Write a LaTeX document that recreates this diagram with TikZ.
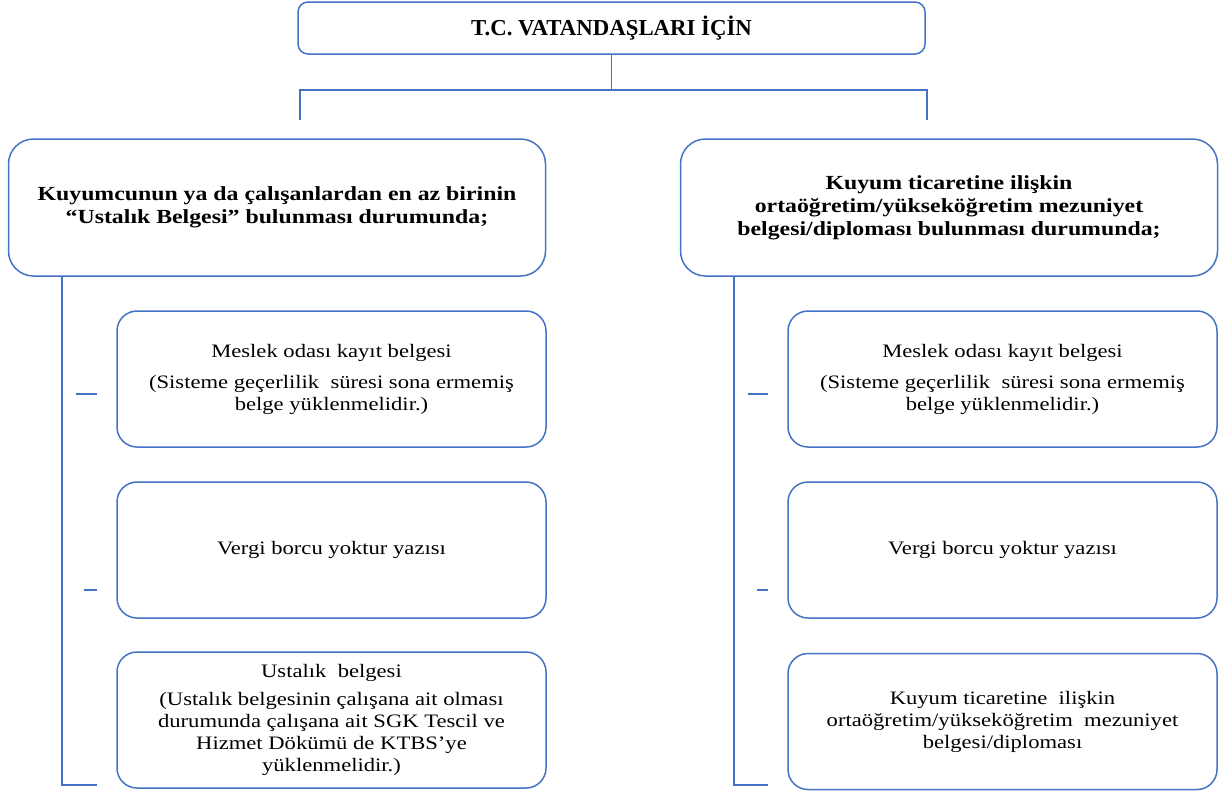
\documentclass[tikz,border=0pt]{standalone}
\usepackage{fontspec}
\setmainfont{Liberation Serif}
\newfontfamily\widefont[FakeStretch=1.19]{Liberation Serif}
\usepackage{xcolor}
\definecolor{linkblue}{HTML}{4472C4}

\begin{document}
\begin{tikzpicture}[x=1pt,y=-1pt,
    box/.style={draw=linkblue,line width=1.5pt,align=center,inner sep=0pt},
    headbox/.style={box,rounded corners=25pt,minimum width=537pt,minimum height=137pt,
        font=\widefont\bfseries\fontsize{20}{23}\selectfont},
    itembox/.style={box,rounded corners=20pt,minimum width=429pt,minimum height=136pt,
        font=\widefont\fontsize{19}{22}\selectfont},
    conn/.style={draw=linkblue,line width=1.5pt}]
    \useasboundingbox (0,0) rectangle (1223,793);

    % title
    \node[box,rounded corners=10pt,minimum width=627pt,minimum height=52pt,
        font=\bfseries\fontsize{22.8}{26}\selectfont] (title) at (611.5,28) {T.C. VATANDAŞLARI İÇİN};
    \coordinate (busL) at (300,90);
    \coordinate (busR) at (927,90);
    \coordinate (dropL) at (300,120);
    \coordinate (dropR) at (927,120);
    \draw[conn] (title.south) -- (title.south |- busL);
    \draw[conn] (dropL) -- (busL) -- (busR) -- (dropR);

    % ustalik belgesi
    \node[headbox] (lefthead) at (277,207.5)
        {Kuyumcunun ya da çalışanlardan en az birinin\\“Ustalık Belgesi” bulunması durumunda;};
    \node[itembox] (leftodasi) at (331.5,379)
        {Meslek odası kayıt belgesi\\[9pt](Sisteme geçerlilik\ \ süresi sona ermemiş\\belge yüklenmelidir.)};
    \node[itembox] (leftvergi) at (331.5,550) {Vergi borcu yoktur yazısı};
    \node[itembox] (leftusta) at (331.5,720)
        {Ustalık\ \ belgesi\\[6pt](Ustalık belgesinin çalışana ait olması\\durumunda çalışana ait SGK Tescil ve\\Hizmet Dökümü de KTBS’ye\\yüklenmelidir.)};
    \coordinate (spineL) at (62,276);
    \coordinate (spineLend) at (97,785);
    \coordinate (tickLa) at (76,394);
    \coordinate (tickLb) at (84,590);
    \draw[conn] (spineL) |- (spineLend);
    \draw[conn] (tickLa) -- (tickLa -| spineLend);
    \draw[conn] (tickLb) -- (tickLb -| spineLend);

    % mezuniyet belgesi
    \begin{scope}[xshift=672pt]
        \node[headbox] (righthead) at (277,207.5)
            {Kuyum ticaretine ilişkin\\ortaöğretim/yükseköğretim mezuniyet\\belgesi/diploması bulunması durumunda;};
        \node[itembox] (rightodasi) at (330.5,379)
            {Meslek odası kayıt belgesi\\[9pt](Sisteme geçerlilik\ \ süresi sona ermemiş\\belge yüklenmelidir.)};
        \node[itembox] (rightvergi) at (330.5,550) {Vergi borcu yoktur yazısı};
        \node[itembox] (rightdiploma) at (330.5,721.5)
            {Kuyum ticaretine\ \ ilişkin\\ortaöğretim/yükseköğretim\ \ mezuniyet\\belgesi/diploması};
        \coordinate (spineR) at (62,276);
        \coordinate (spineRend) at (96,785);
        \coordinate (tickRa) at (76,394);
        \coordinate (tickRb) at (85,590);
        \draw[conn] (spineR) |- (spineRend);
        \draw[conn] (tickRa) -- (tickRa -| spineRend);
        \draw[conn] (tickRb) -- (tickRb -| spineRend);
    \end{scope}
\end{tikzpicture}
\end{document}
